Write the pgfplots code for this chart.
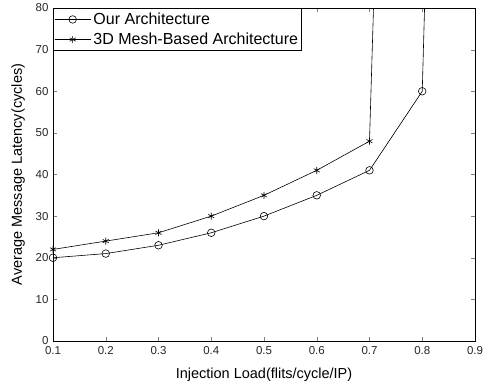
\documentclass[border=0pt]{standalone}
\usepackage{fontspec}
\setmainfont{Liberation Sans}
\usepackage{pgfplots}
\pgfplotsset{compat=1.18}
\begin{document}
\begin{tikzpicture}
\useasboundingbox (-53bp,-45bp) rectangle (432bp,341bp);
\begin{axis}[
  at={(0,0)}, anchor=south west,
  scale only axis, width=422bp, height=333bp,
  xmin=0.1, xmax=0.9, ymin=0, ymax=80,
  xtick={0.1,0.2,...,0.9},
  xticklabels={0.1,0.2,0.3,0.4,0.5,0.6,0.7,0.8,0.9},
  ytick={0,10,...,80},
  tick align=inside,
  major tick length=4bp,
  /pgf/number format/assume math mode=true,
  tick label style={font=\fontsize{11.5bp}{13bp}\selectfont, text=black!85},
  xticklabel style={yshift=-2bp},
  yticklabel style={xshift=-1bp},
  label style={font=\fontsize{14.5bp}{16bp}\selectfont},
  xlabel={Injection Load(flits/cycle/IP)},
  ylabel={Average Message Latency(cycles)},
  xlabel style={yshift=-6bp},
  ylabel style={yshift=4bp},
  axis line style={line width=0.8pt},
  legend style={at={(0,1)}, anchor=north west, draw=black, line width=0.8pt,
    font=\fontsize{16bp}{18bp}\selectfont, inner xsep=1bp, inner ysep=2.5bp, row sep=3bp,
    legend cell align=left, nodes={inner xsep=2.5bp}},
  legend image code/.code={
    \draw[#1, line width=0.6pt] (6bp,0cm) -- (42bp,0cm);
    \draw[#1, line width=0.6pt, mark repeat=2, mark phase=2] plot coordinates {(6bp,0cm) (24bp,0cm) (42bp,0cm)};
  },
]
\addplot[black, line width=0.6pt, mark=o, mark size=3.8bp] coordinates {
  (0.1,20) (0.2,21) (0.3,23) (0.4,26) (0.5,30) (0.6,35) (0.7,41) (0.8,60) (0.9,515)
};
\addlegendentry{Our Architecture}
\addplot[black, line width=0.6pt, mark=asterisk, mark size=3.5bp] coordinates {
  (0.1,22) (0.2,24) (0.3,26) (0.4,30) (0.5,35) (0.6,41) (0.7,48) (0.8,470)
};
\addlegendentry{3D Mesh-Based Architecture}
\end{axis}
\end{tikzpicture}
\end{document}
